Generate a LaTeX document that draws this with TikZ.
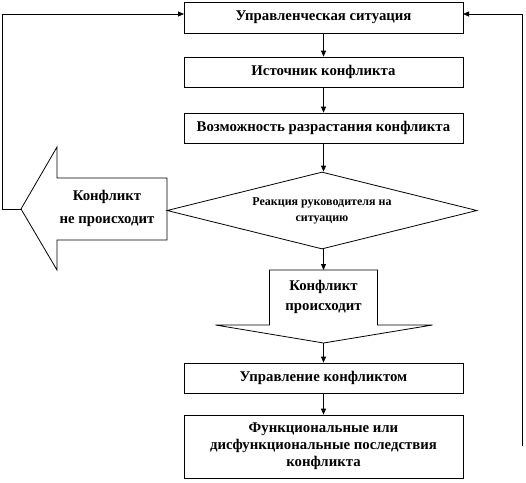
\documentclass[tikz,border=0pt]{standalone}
\usepackage{fontspec}
\setmainfont{Liberation Serif}
\usetikzlibrary{arrows.meta,shapes.geometric}
\begin{document}
\begin{tikzpicture}[x=1pt,y=-1pt,
  every node/.style={font=\bfseries\fontsize{14.8}{17}\selectfont},
  box/.style={draw,line width=0.8pt,minimum width=279pt,inner sep=0pt,align=center},
  shp/.style={draw,line width=0.8pt},
  con/.style={line width=0.8pt,-{Triangle[length=6pt,width=5pt]}},
  ln/.style={line width=0.8pt}]
\useasboundingbox (0,0) rectangle (526,482);
\node[box,minimum height=31pt] (b1) at (323.5,17.5) {Управленческая ситуация};
\node[box,minimum height=30pt] (b2) at (323.5,72) {Источник конфликта};
\node[box,minimum height=30pt] (b3) at (323.5,128) {Возможность разрастания конфликта};
\node[draw,line width=0.8pt,diamond,aspect=4,minimum width=310pt,minimum height=77pt,inner sep=0pt,align=center,
  font=\bfseries\fontsize{12}{16}\selectfont] (d) at (322,210.5) {Реакция руководителя на\\ситуацию};
% left arrow
\coordinate (lt) at (21,209);
\draw[shp] (lt) -- (57,147) -- (57,178) -- (167,178) -- (167,240) -- (57,240) -- (57,270) -- cycle;
\node[align=center,font=\bfseries\fontsize{14.8}{23}\selectfont] (lx) at (107,208.5) {Конфликт\\не происходит};
% down arrow
\coordinate (dtop) at (323.5,270);
\coordinate (dtip) at (323.5,343);
\draw[shp] (269.5,270) -- (377.5,270) -- (377.5,325) -- (432.5,325) -- (dtip) -- (215.5,325) -- (269.5,325) -- cycle;
\node[align=center,font=\bfseries\fontsize{14.8}{20}\selectfont] (dx) at (323.5,297) {Конфликт\\происходит};
\node[box,minimum height=30pt] (b4) at (323.5,378) {Управление конфликтом};
\node[box,minimum height=63pt] (b5) at (323.5,446.5) {Функциональные или\\дисфункциональные последствия\\конфликта};
% connectors
\draw[con] (b1) -- (b2);
\draw[con] (b2) -- (b3);
\draw[con] (b3.south) -- (b3.south |- d.north);
\draw[con] (b3.south |- d.south) -- (dtop);
\draw[con] (dtip) -- (b4.north);
\draw[con] (b4) -- (b5);
\coordinate (b1l) at (184,14);
\coordinate (b1r) at (463,14);
\coordinate (rb) at (522,446);
\draw[con] (lt) -- (2,209) -- (2,14) -- (b1l);
\draw[con] (rb) -- (522,14) -- (b1r);
\end{tikzpicture}
\end{document}
